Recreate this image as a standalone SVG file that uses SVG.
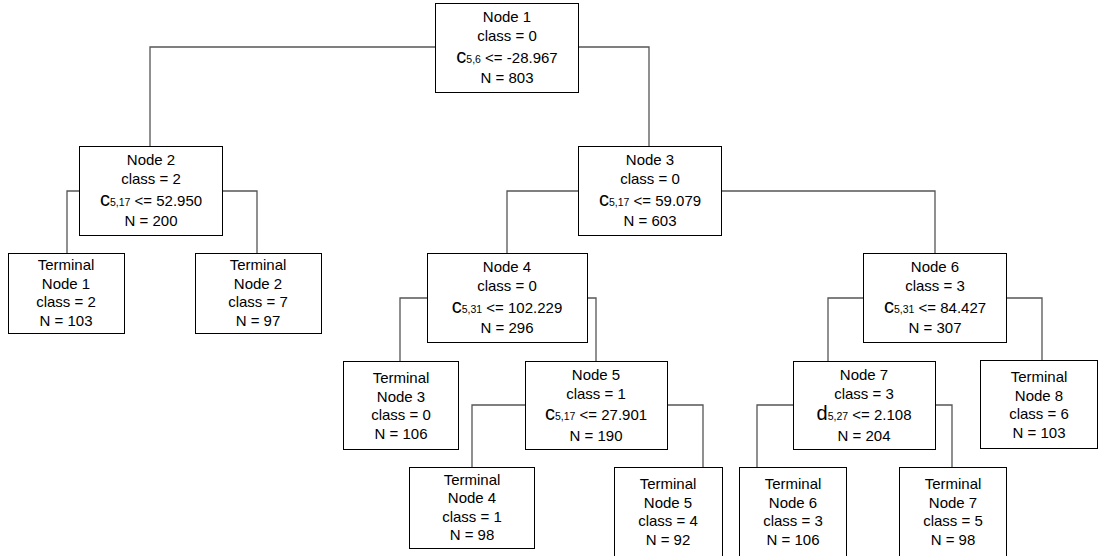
<svg xmlns="http://www.w3.org/2000/svg" width="1100" height="556" viewBox="0 0 1100 556">
<style>
rect{fill:#fff;stroke:#000;stroke-width:1}
text{font-family:"Liberation Sans",Arial,sans-serif;font-size:15px;fill:#000;text-anchor:middle}
.v{font-size:20px}
.s{font-size:10.5px}
#connectors path{fill:none;stroke:#555;stroke-width:1.3}
</style>
<rect x="0" y="0" width="1100" height="556" style="fill:#fff;stroke:none"/>
<g id="connectors">
<path d="M435,47H150V146"/>
<path d="M578,47H649V146"/>
<path d="M79,191H67V253"/>
<path d="M222,191H257V253"/>
<path d="M578,191H507V253"/>
<path d="M721,191H935V253"/>
<path d="M427,298H400V361"/>
<path d="M587,298H596V361"/>
<path d="M525,405H472V467"/>
<path d="M667,405H703V467"/>
<path d="M863,298H828V361"/>
<path d="M1006,298H1042V360"/>
<path d="M793,405H757V467"/>
<path d="M935,405H952V467"/>
</g>
<g id="node1">
<rect x="435.5" y="3.5" width="143" height="89"/>
<text x="507" y="22">Node 1</text>
<text x="507" y="41">class = 0</text>
<text x="507" y="63"><tspan class="v">c</tspan><tspan class="s">5,6</tspan> &lt;= -28.967</text>
<text x="507" y="83">N = 803</text>
</g>
<g id="node2">
<rect x="79.5" y="146.5" width="143" height="89"/>
<text x="151" y="165">Node 2</text>
<text x="151" y="184">class = 2</text>
<text x="151" y="206"><tspan class="v">c</tspan><tspan class="s">5,17</tspan> &lt;= 52.950</text>
<text x="151" y="226">N = 200</text>
</g>
<g id="node3">
<rect x="578.5" y="146.5" width="143" height="89"/>
<text x="650" y="165">Node 3</text>
<text x="650" y="184">class = 0</text>
<text x="650" y="206"><tspan class="v">c</tspan><tspan class="s">5,17</tspan> &lt;= 59.079</text>
<text x="650" y="226">N = 603</text>
</g>
<g id="node4">
<rect x="427.5" y="253.5" width="160" height="89"/>
<text x="507" y="272">Node 4</text>
<text x="507" y="291">class = 0</text>
<text x="507" y="313"><tspan class="v">c</tspan><tspan class="s">5,31</tspan> &lt;= 102.229</text>
<text x="507" y="333">N = 296</text>
</g>
<g id="node5">
<rect x="525.5" y="361.5" width="142" height="88"/>
<text x="596" y="380">Node 5</text>
<text x="596" y="399">class = 1</text>
<text x="596" y="420"><tspan class="v">c</tspan><tspan class="s">5,17</tspan> &lt;= 27.901</text>
<text x="596" y="441">N = 190</text>
</g>
<g id="node6">
<rect x="863.5" y="253.5" width="143" height="89"/>
<text x="935" y="272">Node 6</text>
<text x="935" y="291">class = 3</text>
<text x="935" y="313"><tspan class="v">c</tspan><tspan class="s">5,31</tspan> &lt;= 84.427</text>
<text x="935" y="333">N = 307</text>
</g>
<g id="node7">
<rect x="793.5" y="361.5" width="142" height="88"/>
<text x="864" y="380">Node 7</text>
<text x="864" y="399">class = 3</text>
<text x="864" y="420"><tspan class="v">d</tspan><tspan class="s">5,27</tspan> &lt;= 2.108</text>
<text x="864" y="441">N = 204</text>
</g>
<g id="terminal1">
<rect x="8.5" y="253.5" width="116" height="80"/>
<text x="66" y="270">Terminal</text>
<text x="66" y="289">Node 1</text>
<text x="66" y="307">class = 2</text>
<text x="66" y="326">N = 103</text>
</g>
<g id="terminal2">
<rect x="195.5" y="253.5" width="126" height="80"/>
<text x="258" y="270">Terminal</text>
<text x="258" y="289">Node 2</text>
<text x="258" y="307">class = 7</text>
<text x="258" y="326">N = 97</text>
</g>
<g id="terminal3">
<rect x="343.5" y="361.5" width="115" height="88"/>
<text x="401" y="383">Terminal</text>
<text x="401" y="402">Node 3</text>
<text x="401" y="420">class = 0</text>
<text x="401" y="439">N = 106</text>
</g>
<g id="terminal4">
<rect x="409.5" y="467.5" width="125" height="81"/>
<text x="472" y="485">Terminal</text>
<text x="472" y="503">Node 4</text>
<text x="472" y="522">class = 1</text>
<text x="472" y="540">N = 98</text>
</g>
<g id="terminal5">
<rect x="614.5" y="467.5" width="108" height="90"/>
<text x="668" y="489">Terminal</text>
<text x="668" y="508">Node 5</text>
<text x="668" y="526">class = 4</text>
<text x="668" y="545">N = 92</text>
</g>
<g id="terminal6">
<rect x="739.5" y="467.5" width="107" height="90"/>
<text x="793" y="489">Terminal</text>
<text x="793" y="508">Node 6</text>
<text x="793" y="526">class = 3</text>
<text x="793" y="545">N = 106</text>
</g>
<g id="terminal7">
<rect x="899.5" y="467.5" width="107" height="90"/>
<text x="953" y="489">Terminal</text>
<text x="953" y="508">Node 7</text>
<text x="953" y="526">class = 5</text>
<text x="953" y="545">N = 98</text>
</g>
<g id="terminal8">
<rect x="980.5" y="360.5" width="117" height="88"/>
<text x="1039" y="382">Terminal</text>
<text x="1039" y="401">Node 8</text>
<text x="1039" y="419">class = 6</text>
<text x="1039" y="438">N = 103</text>
</g>
</svg>
